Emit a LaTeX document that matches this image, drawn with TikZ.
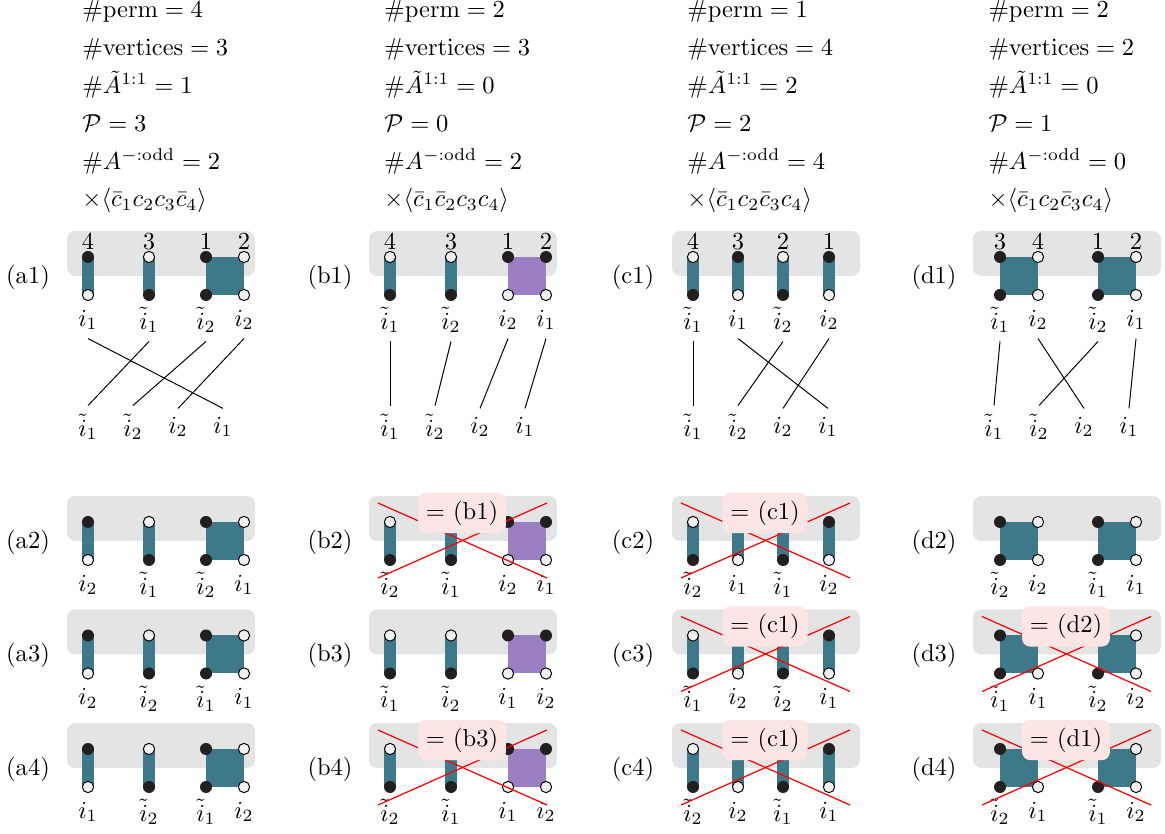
\documentclass[tikz,border=0pt]{standalone}
\definecolor{barteal}{RGB}{62,121,137}
\definecolor{sqpurple}{RGB}{155,127,195}
\definecolor{boxgray}{RGB}{228,228,228}
\definecolor{dotblack}{RGB}{35,31,32}
\definecolor{dotwhite}{RGB}{240,240,240}
\definecolor{pinkfill}{RGB}{253,229,229}

\tikzset{
  graybox/.style={fill=boxgray, rounded corners=3.3pt},
  bar/.style={draw=barteal, line width=4.5pt},
  bd/.style={circle, fill=dotblack, inner sep=0pt, minimum size=4.9pt},
  wd/.style={circle, fill=dotwhite, draw=black, line width=0.4pt, inner sep=0pt, minimum size=4.6pt},
  lab/.style={inner sep=3.33pt},
  num/.style={anchor=base, inner sep=0pt},
  stat/.style={anchor=base west, inner sep=0pt},
  rowlab/.style={inner sep=0pt},
  perm/.style={draw=black, line width=0.4pt},
  redx/.style={draw=red, line width=0.5pt},
  eqbox/.style={fill=pinkfill, rounded corners=3.3pt, inner sep=3.2pt}
}

% two bars and one square (columns a and b)
\newcommand\panelAB[3]{%
  \begin{scope}[shift={#2}]
    \fill[graybox] (67,-26) rectangle (255,19);
    \coordinate (#1-1t) at (88,0);  \coordinate (#1-1b) at (88,38);
    \coordinate (#1-2t) at (149,0); \coordinate (#1-2b) at (149,38);
    \coordinate (#1-3t) at (206,0); \coordinate (#1-3b) at (206,38);
    \coordinate (#1-4t) at (244,0); \coordinate (#1-4b) at (244,38);
    \draw[bar] (#1-1t) -- (#1-1b);
    \draw[bar] (#1-2t) -- (#1-2b);
    \fill[#3] (#1-3t) rectangle (#1-4b);
    \node[rowlab] (#1-name) at (28,20) {(#1)};
  \end{scope}}

% four bars (column c)
\newcommand\panelC[2]{%
  \begin{scope}[shift={#2}]
    \fill[graybox] (67,-26) rectangle (255,19);
    \coordinate (#1-1t) at (88,0);  \coordinate (#1-1b) at (88,38);
    \coordinate (#1-2t) at (133,0); \coordinate (#1-2b) at (133,38);
    \coordinate (#1-3t) at (178,0); \coordinate (#1-3b) at (178,38);
    \coordinate (#1-4t) at (224,0); \coordinate (#1-4b) at (224,38);
    \foreach \k in {1,...,4}{\draw[bar] (#1-\k t) -- (#1-\k b);}
    \node[rowlab] (#1-name) at (28,20) {(#1)};
  \end{scope}}

% two squares (column d)
\newcommand\panelD[2]{%
  \begin{scope}[shift={#2}]
    \fill[graybox] (67,-26) rectangle (255,19);
    \coordinate (#1-1t) at (94,0);  \coordinate (#1-1b) at (94,38);
    \coordinate (#1-2t) at (132,0); \coordinate (#1-2b) at (132,38);
    \coordinate (#1-3t) at (192,0); \coordinate (#1-3b) at (192,38);
    \coordinate (#1-4t) at (230,0); \coordinate (#1-4b) at (230,38);
    \fill[barteal] (#1-1t) rectangle (#1-2b);
    \fill[barteal] (#1-3t) rectangle (#1-4b);
    \node[rowlab] (#1-name) at (28,20) {(#1)};
  \end{scope}}

% end-point dots: top/bottom style of each of the four columns
\newcommand\putdots[9]{%
  \node[#2] (#1-1tn) at (#1-1t) {}; \node[#3] (#1-1bn) at (#1-1b) {};
  \node[#4] (#1-2tn) at (#1-2t) {}; \node[#5] (#1-2bn) at (#1-2b) {};
  \node[#6] (#1-3tn) at (#1-3t) {}; \node[#7] (#1-3bn) at (#1-3b) {};
  \node[#8] (#1-4tn) at (#1-4t) {}; \node[#9] (#1-4bn) at (#1-4b) {};}

% index labels under the columns
\newcommand\putlabels[5]{%
  \path (#1-1b) ++(0,25) node[lab] (#1-l1) {$#2$};
  \path (#1-2b) ++(0,25) node[lab] (#1-l2) {$#3$};
  \path (#1-3b) ++(0,25) node[lab] (#1-l3) {$#4$};
  \path (#1-4b) ++(0,25) node[lab] (#1-l4) {$#5$};}

% site numbers above the columns
\newcommand\putnums[5]{%
  \path (#1-1t) ++(0,-7) node[num] (#1-n1) {#2};
  \path (#1-2t) ++(0,-7) node[num] (#1-n2) {#3};
  \path (#1-3t) ++(0,-7) node[num] (#1-n3) {#4};
  \path (#1-4t) ++(0,-7) node[num] (#1-n4) {#5};}

% reference ordering of the indices
\newcommand\permrow[2]{%
  \begin{scope}[shift={(#2,427)}]
    \node[lab] (#1-p1) at (88,0)  {$\tilde{i}_1$};
    \node[lab] (#1-p2) at (133,0) {$\tilde{i}_2$};
    \node[lab] (#1-p3) at (178,0) {$i_2$};
    \node[lab] (#1-p4) at (223,0) {$i_1$};
  \end{scope}}

% struck-out panel with its equivalent
\newcommand\crossout[3]{%
  \begin{scope}[shift={#2}]
    \coordinate (#1-x1) at (76,-19);  \coordinate (#1-x2) at (245,56);
    \coordinate (#1-x3) at (76,56);   \coordinate (#1-x4) at (245,-19);
    \draw[redx] (#1-x1) -- (#1-x2);
    \draw[redx] (#1-x3) -- (#1-x4);
    \node[eqbox] (#1-eq) at (160,-9) {$=$ (#3)};
  \end{scope}}

% counting data above each column
\newcommand\stats[8]{%
  \begin{scope}[shift={(#2,0)}]
    \node[stat] (#1-s1) at (82,18)    {$\#\mathrm{perm}=#3$};
    \node[stat] (#1-s2) at (82,55.8)  {$\#\mathrm{vertices}=#4$};
    \node[stat] (#1-s3) at (82,93.6)  {$\#\tilde{A}^{1:1}=#5$};
    \node[stat] (#1-s4) at (82,131.4) {$\mathcal{P}=#6$};
    \node[stat] (#1-s5) at (82,169.2) {$\#A^{-:\mathrm{odd}}=#7$};
    \node[stat] (#1-s6) at (82,207)   {$\times\langle #8\rangle$};
  \end{scope}}

\begin{document}
\begin{tikzpicture}[x=0.408pt,y=-0.408pt]
\useasboundingbox (0,0) rectangle (1165,834);

% ---------- counting data ----------
\stats{a}{0}{4}{3}{1}{3}{2}{\bar{c}_1c_2c_3\bar{c}_4}
\stats{b}{302}{2}{3}{0}{0}{2}{\bar{c}_1\bar{c}_2c_3c_4}
\stats{c}{605}{1}{4}{2}{2}{4}{\bar{c}_1c_2\bar{c}_3c_4}
\stats{d}{906}{2}{2}{0}{1}{0}{\bar{c}_1c_2\bar{c}_3c_4}

% ---------- column a ----------
\panelAB{a1}{(0,257)}{barteal}
\putdots{a1}{bd}{wd}{wd}{bd}{bd}{bd}{wd}{wd}
\putlabels{a1}{i_1}{\tilde{i}_1}{\tilde{i}_2}{i_2}
\putnums{a1}{4}{3}{1}{2}
\panelAB{a2}{(0,522)}{barteal}
\putdots{a2}{bd}{wd}{wd}{bd}{bd}{bd}{wd}{wd}
\putlabels{a2}{i_2}{\tilde{i}_1}{\tilde{i}_2}{i_1}
\panelAB{a3}{(0,635.5)}{barteal}
\putdots{a3}{bd}{wd}{wd}{bd}{bd}{bd}{wd}{wd}
\putlabels{a3}{i_2}{\tilde{i}_2}{\tilde{i}_1}{i_1}
\panelAB{a4}{(0,749)}{barteal}
\putdots{a4}{bd}{wd}{wd}{bd}{bd}{bd}{wd}{wd}
\putlabels{a4}{i_1}{\tilde{i}_2}{\tilde{i}_1}{i_2}

% ---------- column b ----------
\panelAB{b1}{(302,257)}{sqpurple}
\putdots{b1}{wd}{bd}{wd}{bd}{bd}{wd}{bd}{wd}
\putlabels{b1}{\tilde{i}_1}{\tilde{i}_2}{i_2}{i_1}
\putnums{b1}{4}{3}{1}{2}
\panelAB{b2}{(302,522)}{sqpurple}
\putdots{b2}{wd}{bd}{wd}{bd}{bd}{wd}{bd}{wd}
\putlabels{b2}{\tilde{i}_2}{\tilde{i}_1}{i_2}{i_1}
\panelAB{b3}{(302,635.5)}{sqpurple}
\putdots{b3}{wd}{bd}{wd}{bd}{bd}{wd}{bd}{wd}
\putlabels{b3}{\tilde{i}_1}{\tilde{i}_2}{i_1}{i_2}
\panelAB{b4}{(302,749)}{sqpurple}
\putdots{b4}{wd}{bd}{wd}{bd}{bd}{wd}{bd}{wd}
\putlabels{b4}{\tilde{i}_2}{\tilde{i}_1}{i_1}{i_2}

% ---------- column c ----------
\panelC{c1}{(605,257)}
\putdots{c1}{wd}{bd}{bd}{wd}{wd}{bd}{bd}{wd}
\putlabels{c1}{\tilde{i}_1}{i_1}{\tilde{i}_2}{i_2}
\putnums{c1}{4}{3}{2}{1}
\panelC{c2}{(605,522)}
\putdots{c2}{wd}{bd}{bd}{wd}{wd}{bd}{bd}{wd}
\putlabels{c2}{\tilde{i}_2}{i_1}{\tilde{i}_1}{i_2}
\panelC{c3}{(605,635.5)}
\putdots{c3}{wd}{bd}{bd}{wd}{wd}{bd}{bd}{wd}
\putlabels{c3}{\tilde{i}_1}{i_2}{\tilde{i}_2}{i_1}
\panelC{c4}{(605,749)}
\putdots{c4}{wd}{bd}{bd}{wd}{wd}{bd}{bd}{wd}
\putlabels{c4}{\tilde{i}_2}{i_2}{\tilde{i}_1}{i_1}

% ---------- column d ----------
\panelD{d1}{(906,257)}
\putdots{d1}{bd}{bd}{wd}{wd}{bd}{bd}{wd}{wd}
\putlabels{d1}{\tilde{i}_1}{i_2}{\tilde{i}_2}{i_1}
\putnums{d1}{3}{4}{1}{2}
\panelD{d2}{(906,522)}
\putdots{d2}{bd}{bd}{wd}{wd}{bd}{bd}{wd}{wd}
\putlabels{d2}{\tilde{i}_2}{i_2}{\tilde{i}_1}{i_1}
\panelD{d3}{(906,635.5)}
\putdots{d3}{bd}{bd}{wd}{wd}{bd}{bd}{wd}{wd}
\putlabels{d3}{\tilde{i}_1}{i_1}{\tilde{i}_2}{i_2}
\panelD{d4}{(906,749)}
\putdots{d4}{bd}{bd}{wd}{wd}{bd}{bd}{wd}{wd}
\putlabels{d4}{\tilde{i}_2}{i_1}{\tilde{i}_1}{i_2}

% ---------- permutations of the first row ----------
\permrow{a1}{0}
\permrow{b1}{302}
\permrow{c1}{605}
\permrow{d1}{906}
\draw[perm] (a1-l1.south) -- (a1-p4.north);
\draw[perm] (a1-l2.south) -- (a1-p1.north);
\draw[perm] (a1-l3.south) -- (a1-p2.north);
\draw[perm] (a1-l4.south) -- (a1-p3.north);
\draw[perm] (b1-l1.south) -- (b1-p1.north);
\draw[perm] (b1-l2.south) -- (b1-p2.north);
\draw[perm] (b1-l3.south) -- (b1-p3.north);
\draw[perm] (b1-l4.south) -- (b1-p4.north);
\draw[perm] (c1-l1.south) -- (c1-p1.north);
\draw[perm] (c1-l2.south) -- (c1-p4.north);
\draw[perm] (c1-l3.south) -- (c1-p2.north);
\draw[perm] (c1-l4.south) -- (c1-p3.north);
\draw[perm] (d1-l1.south) -- (d1-p1.north);
\draw[perm] (d1-l2.south) -- (d1-p3.north);
\draw[perm] (d1-l3.south) -- (d1-p2.north);
\draw[perm] (d1-l4.south) -- (d1-p4.north);

% ---------- equivalent orderings ----------
\crossout{b2}{(302,522)}{b1}
\crossout{b4}{(302,749)}{b3}
\crossout{c2}{(605,522)}{c1}
\crossout{c3}{(605,635.5)}{c1}
\crossout{c4}{(605,749)}{c1}
\crossout{d3}{(906,635.5)}{d2}
\crossout{d4}{(906,749)}{d1}
\end{tikzpicture}
\end{document}
